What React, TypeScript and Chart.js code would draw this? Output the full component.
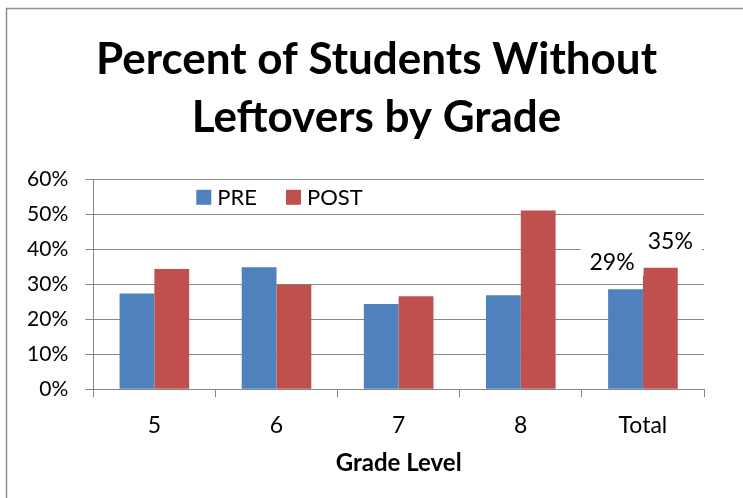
import React, { useEffect, useRef } from 'react';
import { Chart, registerables } from 'chart.js';

Chart.register(...registerables);

const categories = ['5', '6', '7', '8', 'Total'];
const seriesNames = ['PRE', 'POST'];
const preValues = [0.274, 0.349, 0.244, 0.269, 0.286];
const postValues = [0.344, 0.299, 0.266, 0.511, 0.347];
const seriesColors = ['#4F81BD', '#C0504D'];
const titleLines = ['Percent of Students Without', 'Leftovers by Grade'];
const xAxisTitle = 'Grade Level';
const yMax = 0.6;
const yStep = 0.1;
const labeledCategories = ['Total'];

const FONT = 'Lato';
const GRID = '#878787';

const pct = (v: number) => Math.round(v * 100) + '%';

const framePlugin = {
  id: 'frame',
  beforeDraw(chart: any) {
    const ctx = chart.ctx;
    ctx.save();
    ctx.fillStyle = '#ffffff';
    ctx.fillRect(0, 0, chart.width, chart.height);
    ctx.strokeStyle = '#8f8f8f';
    ctx.lineWidth = 1.5;
    ctx.strokeRect(6.5, 8.5, chart.width + 20, chart.height + 20);
    ctx.restore();
  },
  afterDraw(chart: any) {
    const ctx = chart.ctx;
    ctx.save();
    ctx.font = `bold 44px ${FONT}`;
    ctx.fillStyle = '#000';
    ctx.textAlign = 'center';
    ctx.textBaseline = 'alphabetic';
    titleLines.forEach((line, i) => {
      ctx.fillText(line, 376.5, 74 + i * 58.4);
    });
    ctx.restore();
  },
};

const innerLegendPlugin = {
  id: 'innerLegend',
  afterDatasetsDraw(chart: any) {
    const ctx = chart.ctx;
    const area = chart.chartArea;
    let x = area.left + 103;
    const yc = area.top + 18;
    ctx.save();
    ctx.font = `22px ${FONT}`;
    ctx.textBaseline = 'middle';
    ctx.textAlign = 'left';
    chart.data.datasets.forEach((ds: any) => {
      ctx.fillStyle = ds.backgroundColor;
      ctx.fillRect(x, yc - 7.5, 15, 15);
      x += 21;
      ctx.fillStyle = '#000';
      ctx.fillText(ds.label, x, yc + 1);
      x += ctx.measureText(ds.label).width + 29;
    });
    ctx.restore();
  },
};

const dataLabelPlugin = {
  id: 'totalLabels',
  afterDatasetsDraw(chart: any) {
    const ctx = chart.ctx;
    ctx.save();
    ctx.font = `23px ${FONT}`;
    ctx.textAlign = 'center';
    ctx.textBaseline = 'middle';
    chart.data.datasets.forEach((ds: any, di: number) => {
      const meta = chart.getDatasetMeta(di);
      categories.forEach((c, i) => {
        if (!labeledCategories.includes(c)) return;
        const bar = meta.data[i];
        const text = pct(ds.data[i]);
        const cx = bar.x + (di === 0 ? -13.5 : 10);
        const cy = bar.y - 27.5;
        const w = ctx.measureText(text).width;
        ctx.fillStyle = '#ffffff';
        ctx.fillRect(cx - w / 2 - 9, cy - 14, w + 18, 28);
        ctx.fillStyle = '#000000';
        ctx.fillText(text, cx, cy + 1);
      });
    });
    ctx.restore();
  },
};

export default function App() {
  const canvasRef = useRef<HTMLCanvasElement>(null);

  useEffect(() => {
    const canvas = canvasRef.current;
    if (!canvas) return;
    const chart = new Chart(canvas, {
      type: 'bar',
      data: {
        labels: categories,
        datasets: [
          {
            label: seriesNames[0],
            data: preValues,
            backgroundColor: seriesColors[0],
            categoryPercentage: 0.57,
            barPercentage: 1,
          },
          {
            label: seriesNames[1],
            data: postValues,
            backgroundColor: seriesColors[1],
            categoryPercentage: 0.57,
            barPercentage: 1,
          },
        ],
      },
      options: {
        responsive: false,
        animation: false,
        events: [],
        layout: { padding: { left: 0, right: 39, top: 179.3, bottom: 0 } },
        plugins: {
          legend: { display: false },
          tooltip: { enabled: false },
          title: { display: false },
        },
        scales: {
          x: {
            grid: {
              display: true,
              drawOnChartArea: false,
              drawTicks: true,
              tickLength: 8,
              color: GRID,
              offset: true,
            },
            border: { display: true, color: GRID, width: 1 },
            ticks: { color: '#000', font: { family: FONT, size: 23 }, padding: 14 },
            title: {
              display: true,
              text: xAxisTitle,
              color: '#000',
              font: { family: FONT, size: 24, weight: 'bold' },
              padding: { top: 8, bottom: 20 },
            },
            afterFit: (s: any) => {
              s.height = 108.7;
            },
          },
          y: {
            min: 0,
            max: yMax,
            ticks: {
              stepSize: yStep,
              callback: (v: any) => pct(Number(v)),
              color: '#000',
              font: { family: FONT, size: 21 },
              padding: 17,
            },
            grid: { color: GRID, tickLength: 8, drawTicks: true, lineWidth: 1 },
            border: { display: true, color: GRID, width: 1 },
            afterFit: (s: any) => {
              s.width = 93.3;
            },
          },
        },
      },
      plugins: [framePlugin, innerLegendPlugin, dataLabelPlugin],
    });
    return () => chart.destroy();
  }, []);

  return (
    <div style={{ position: 'fixed', left: 0, top: 0, width: 743, height: 498, background: '#fff' }}>
      <canvas ref={canvasRef} width={743} height={498} style={{ display: 'block' }} />
    </div>
  );
}
